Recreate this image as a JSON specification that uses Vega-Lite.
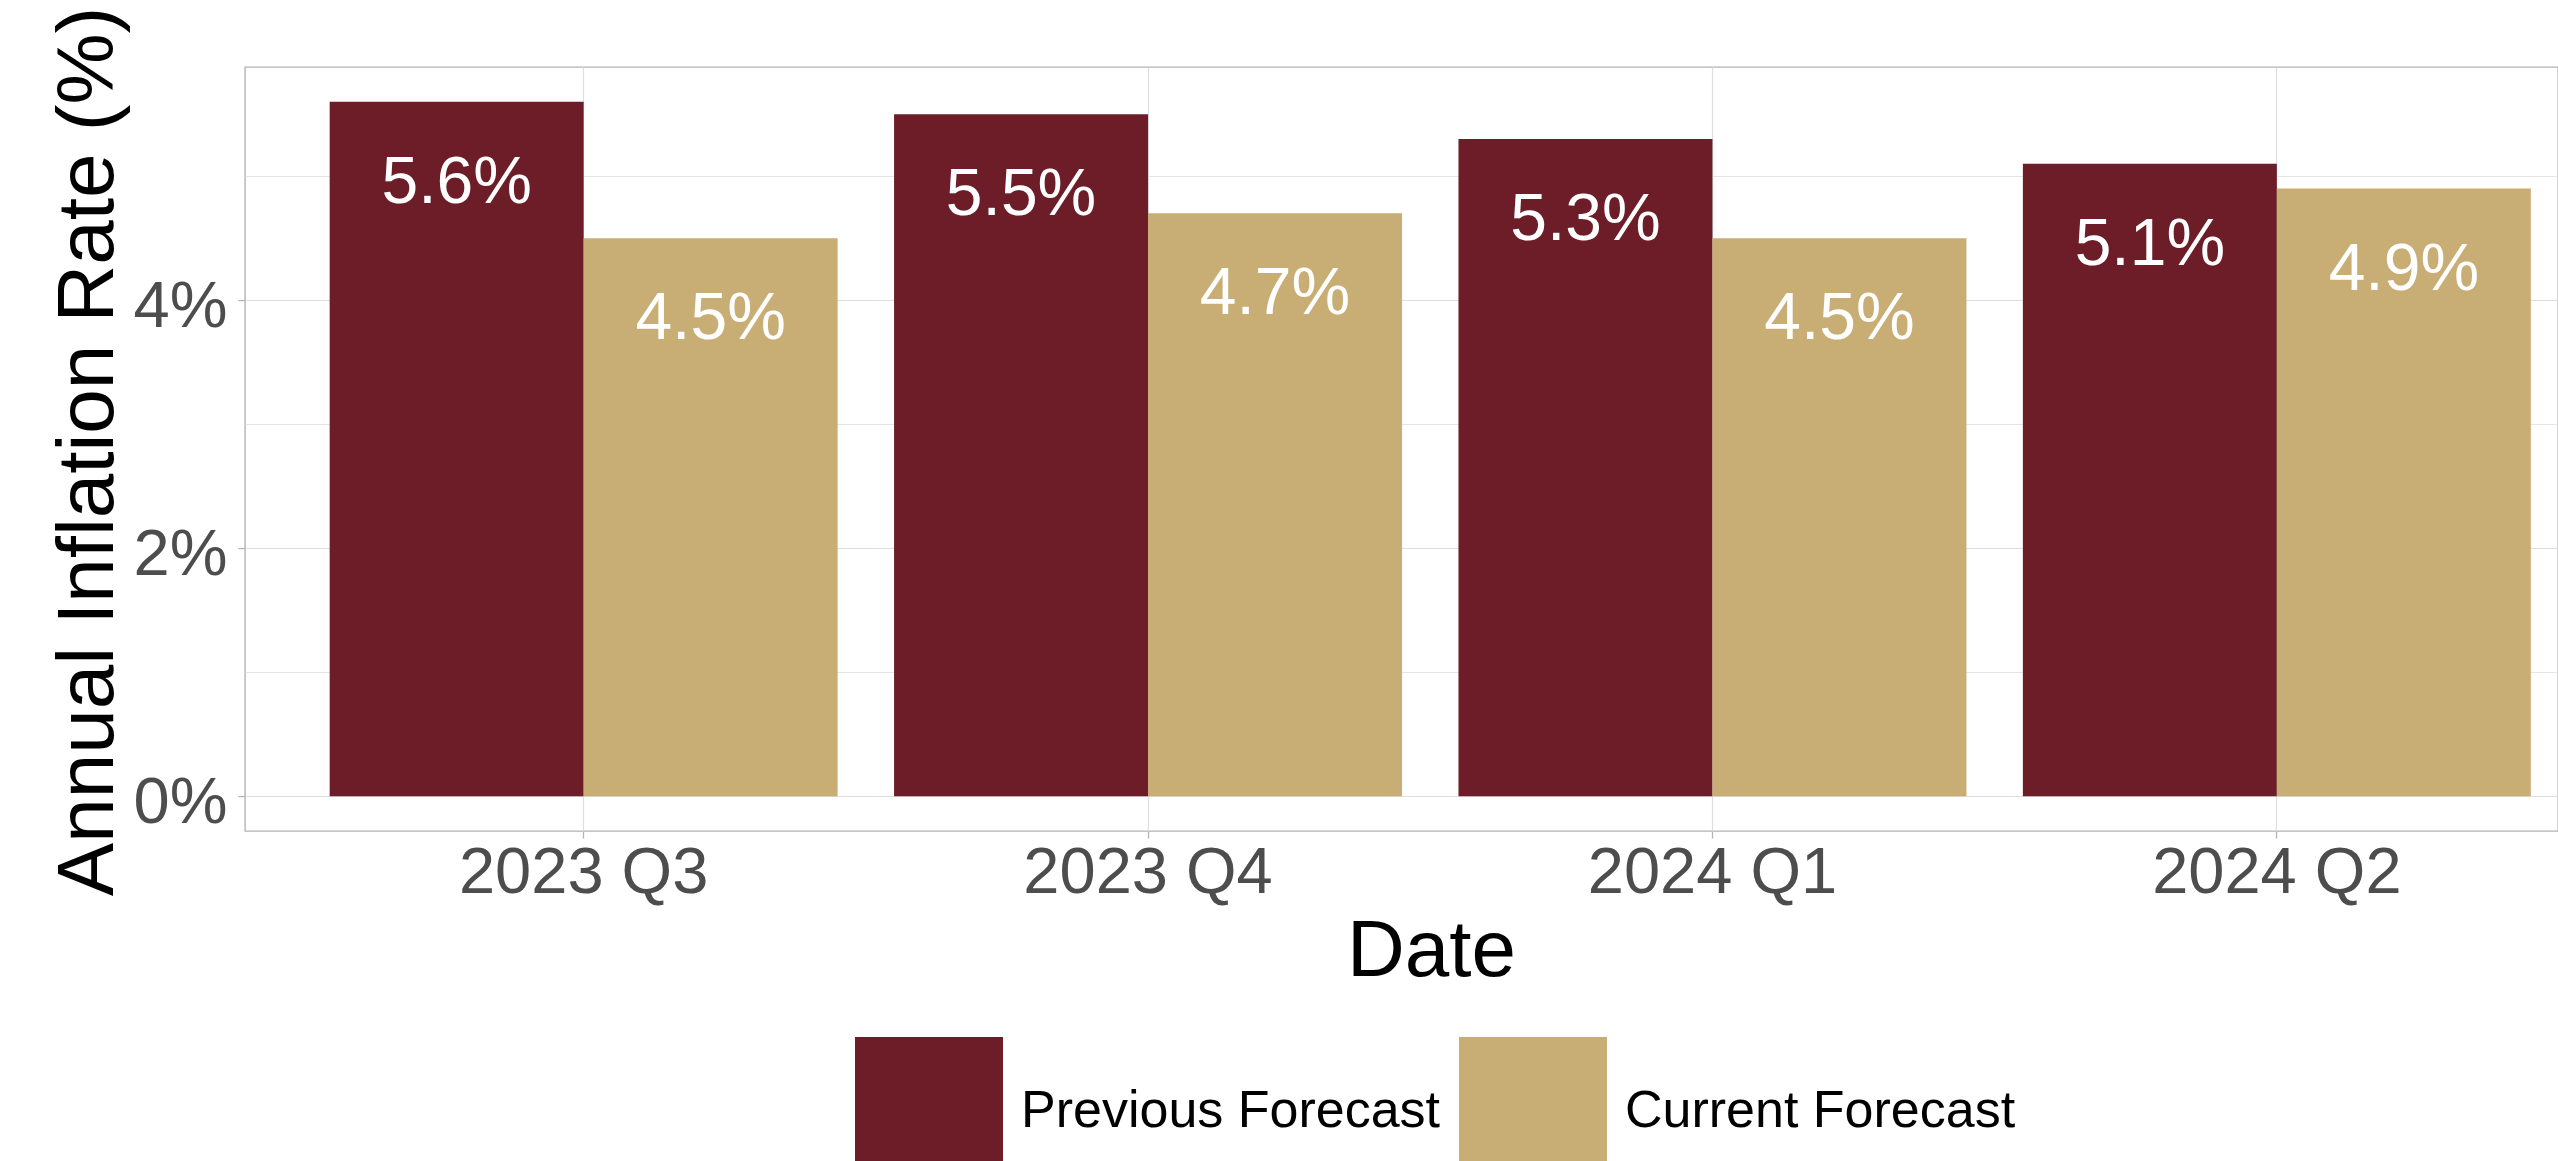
{
  "$schema": "https://vega.github.io/schema/vega-lite/v6.json",
  "width": 2313,
  "height": 764,
  "autosize": {"type": "none"},
  "padding": {"left": 245, "top": 67, "right": 0, "bottom": 330},
  "background": "white",
  "config": {
    "font": "Liberation Sans",
    "view": {"stroke": "#B3B3B3", "strokeWidth": 1.4}
  },
  "data": {
    "values": [
      {"quarter": "2023 Q3", "series": "Previous Forecast", "value": 5.6, "label": "5.6%"},
      {"quarter": "2023 Q3", "series": "Current Forecast", "value": 4.5, "label": "4.5%"},
      {"quarter": "2023 Q4", "series": "Previous Forecast", "value": 5.5, "label": "5.5%"},
      {"quarter": "2023 Q4", "series": "Current Forecast", "value": 4.7, "label": "4.7%"},
      {"quarter": "2024 Q1", "series": "Previous Forecast", "value": 5.3, "label": "5.3%"},
      {"quarter": "2024 Q1", "series": "Current Forecast", "value": 4.5, "label": "4.5%"},
      {"quarter": "2024 Q2", "series": "Previous Forecast", "value": 5.1, "label": "5.1%"},
      {"quarter": "2024 Q2", "series": "Current Forecast", "value": 4.9, "label": "4.9%"}
    ]
  },
  "encoding": {
    "x": {
      "field": "quarter",
      "type": "nominal",
      "sort": ["2023 Q3", "2023 Q4", "2024 Q1", "2024 Q2"],
      "scale": {"type": "band", "paddingInner": 0.1, "paddingOuter": 0.15, "range": [0, 2370.5]},
      "axis": {
        "title": "Date",
        "titleFontSize": 80,
        "titleFontWeight": "normal",
        "titleColor": "black",
        "titleX": 1186,
        "titleY": 144,
        "titleAlign": "center",
        "titleBaseline": "alphabetic",
        "titleLimit": 3000,
        "labelFontSize": 65,
        "labelColor": "#4D4D4D",
        "labelAngle": 0,
        "labelPadding": 3,
        "labelLimit": 1000,
        "labelOverlap": false,
        "domain": false,
        "ticks": true,
        "tickSize": 7,
        "tickColor": "#B3B3B3",
        "tickWidth": 1.3,
        "bandPosition": 0.5,
        "grid": true,
        "gridColor": "#DEDEDE",
        "gridWidth": 1.2
      }
    },
    "xOffset": {
      "field": "series",
      "type": "nominal",
      "sort": ["Previous Forecast", "Current Forecast"],
      "scale": {"paddingInner": 0, "paddingOuter": 0}
    },
    "y": {
      "field": "value",
      "type": "quantitative",
      "stack": null,
      "scale": {"domain": [-0.28, 5.88], "nice": false},
      "axis": {
        "title": "Annual Inflation Rate (%)",
        "titleFontSize": 80,
        "titleFontWeight": "normal",
        "titleColor": "black",
        "titleAngle": 270,
        "titleX": -133,
        "titleY": 384,
        "titleAlign": "center",
        "titleBaseline": "alphabetic",
        "titleLimit": 3000,
        "values": [0, 1, 2, 3, 4, 5],
        "labelExpr": "datum.value % 2 === 0 ? datum.value + '%' : ''",
        "labelFontSize": 65,
        "labelColor": "#4D4D4D",
        "labelPadding": 11,
        "labelOffset": 6,
        "labelOverlap": false,
        "labelLimit": 1000,
        "domain": false,
        "tickSize": 7,
        "tickWidth": 1.3,
        "tickColor": {"condition": {"test": "datum.value % 2 === 1", "value": "transparent"}, "value": "#B3B3B3"},
        "grid": true,
        "gridColor": "#DEDEDE",
        "gridWidth": {"condition": {"test": "datum.value % 2 === 1", "value": 0.8}, "value": 1.2}
      }
    }
  },
  "layer": [
    {
      "mark": {"type": "bar"},
      "encoding": {
        "color": {
          "field": "series",
          "type": "nominal",
          "sort": ["Previous Forecast", "Current Forecast"],
          "scale": {"domain": ["Previous Forecast", "Current Forecast"], "range": ["#6C1D27", "#C8AE75"]},
          "legend": {
            "orient": "none",
            "legendX": 610,
            "legendY": 970,
            "direction": "horizontal",
            "title": null,
            "padding": 0,
            "symbolType": "square",
            "symbolSize": 21904,
            "symbolStrokeWidth": 0,
            "symbolOpacity": 1,
            "labelFontSize": 52,
            "labelColor": "black",
            "labelOffset": 18,
            "labelLimit": 2000,
            "columnPadding": 18
          }
        }
      }
    },
    {
      "mark": {"type": "text", "baseline": "alphabetic", "align": "center", "dy": 101, "fontSize": 66, "color": "white"},
      "encoding": {"text": {"field": "label", "type": "nominal"}}
    }
  ]
}
